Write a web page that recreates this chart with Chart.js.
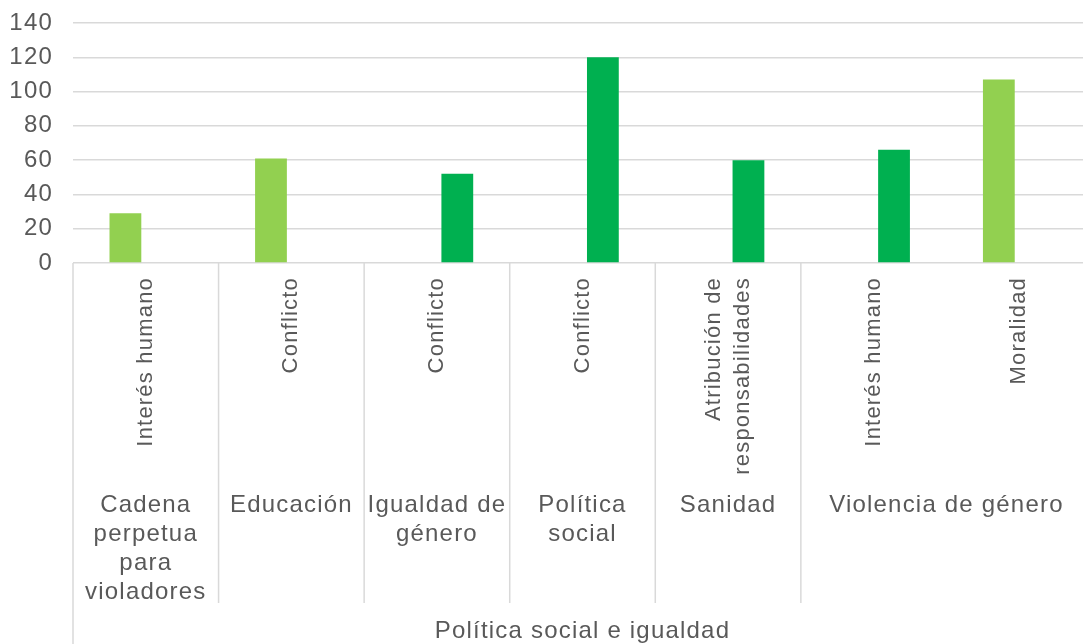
<!DOCTYPE html>
<html>
<head>
<meta charset="utf-8">
<script src="https://cdn.jsdelivr.net/npm/chart.js@4.4.0/dist/chart.umd.min.js"></script>
<style>
html, body { margin: 0; padding: 0; overflow: hidden; background: #fff; }
#wrap { width: 1100px; height: 644px; }
</style>
</head>
<body>
<div id="wrap"><canvas id="myChart"></canvas></div>
<script>
// level 1 (rotated), level 2 (groups) and level 3 of the category axis
const categories = ['Interés humano', 'Conflicto', 'Conflicto', 'Conflicto', ['Atribución de', 'responsabilidades'], 'Interés humano', 'Moralidad'];
const groups = [['Cadena', 'perpetua', 'para', 'violadores'], ['Educación'], ['Igualdad de', 'género'], ['Política', 'social'], ['Sanidad'], ['Violencia de género']];
const groupSpans = [1, 1, 1, 1, 1, 2];
const topGroup = 'Política social e igualdad';

// two series, each category has a value in only one of them
const lightValues = [29, 61, null, null, null, null, 107];
const darkValues = [null, null, 52, 120, 60, 66, null];

const yMin = 0, yMax = 140, yStep = 20;

const textColor = '#595959';
const lineColor = '#d9d9d9';
const fontFamily = "'Liberation Sans', Arial, sans-serif";
const gap = '1.2px';

// wider letters like the original rendering
const spacing = {
    id: 'spacing',
    beforeLayout(chart) { chart.ctx.letterSpacing = gap; },
    beforeDraw(chart) { chart.ctx.letterSpacing = gap; }
};

// category axis labels (all three levels) and separators, placed from the x scale
const groupAxis = {
    id: 'groupAxis',
    afterDraw(chart) {
        const ctx = chart.ctx;
        const x = chart.scales.x;
        const y0 = chart.chartArea.bottom;
        const half = (x.getPixelForValue(1) - x.getPixelForValue(0)) / 2;
        ctx.save();
        ctx.letterSpacing = gap;
        ctx.fillStyle = textColor;

        // level 1, rotated
        ctx.font = '22px ' + fontFamily;
        ctx.textAlign = 'right';
        ctx.textBaseline = 'middle';
        categories.forEach((c, i) => {
            const lines = Array.isArray(c) ? c : [c];
            const cx = x.getPixelForValue(i);
            lines.forEach((t, j) => {
                ctx.save();
                ctx.translate(cx + (j - (lines.length - 1) / 2) * 29, y0 + 14);
                ctx.rotate(-Math.PI / 2);
                ctx.fillText(t, 0, 0);
                ctx.restore();
            });
        });

        // level 2 and 3
        ctx.strokeStyle = lineColor;
        ctx.lineWidth = 1.5;
        ctx.font = '24px ' + fontFamily;
        ctx.textAlign = 'center';
        ctx.textBaseline = 'alphabetic';
        let i = 0, first = 0, last = 0;
        groups.forEach((lines, k) => {
            const left = x.getPixelForValue(i) - half;
            const right = x.getPixelForValue(i + groupSpans[k] - 1) + half;
            if (k === 0) first = left;
            last = right;
            ctx.beginPath();
            ctx.moveTo(left, y0);
            ctx.lineTo(left, k === 0 ? chart.height : y0 + 340);
            ctx.stroke();
            lines.forEach((t, j) => ctx.fillText(t, (left + right) / 2, y0 + 249 + j * 29));
            i += groupSpans[k];
        });
        ctx.beginPath();
        ctx.moveTo(last, y0);
        ctx.lineTo(last, chart.height);
        ctx.stroke();
        ctx.fillText(topGroup, (first + last) / 2, y0 + 375);
        ctx.restore();
    }
};

const ctx = document.getElementById('myChart').getContext('2d');
const chart = new Chart(ctx, {
    type: 'bar',
    data: {
        labels: categories,
        datasets: [{
            label: 'A',
            data: lightValues,
            backgroundColor: '#92D050'
        }, {
            label: 'B',
            data: darkValues,
            backgroundColor: '#00B050'
        }]
    },
    options: {
        responsive: true,
        maintainAspectRatio: false,
        animation: false,
        categoryPercentage: 0.56,
        barPercentage: 0.78,
        layout: { padding: { top: 23, right: 8, left: 0, bottom: 0 } },
        plugins: {
            legend: { display: false },
            tooltip: { enabled: false }
        },
        scales: {
            x: {
                grid: { display: false, drawTicks: false },
                border: { display: false },
                ticks: { display: false },
                afterFit(scale) { scale.height = 381; }
            },
            y: {
                min: yMin,
                max: yMax,
                grid: { color: lineColor, lineWidth: 1.5, drawTicks: false },
                border: { display: false },
                ticks: {
                    stepSize: yStep,
                    color: textColor,
                    font: { family: fontFamily, size: 24 },
                    padding: 20
                },
                afterFit(scale) {
                    scale.width = 73;
                    scale.paddingTop = 0;
                    scale.paddingBottom = 0;
                }
            }
        }
    },
    plugins: [spacing, groupAxis]
});
</script>
</body>
</html>
